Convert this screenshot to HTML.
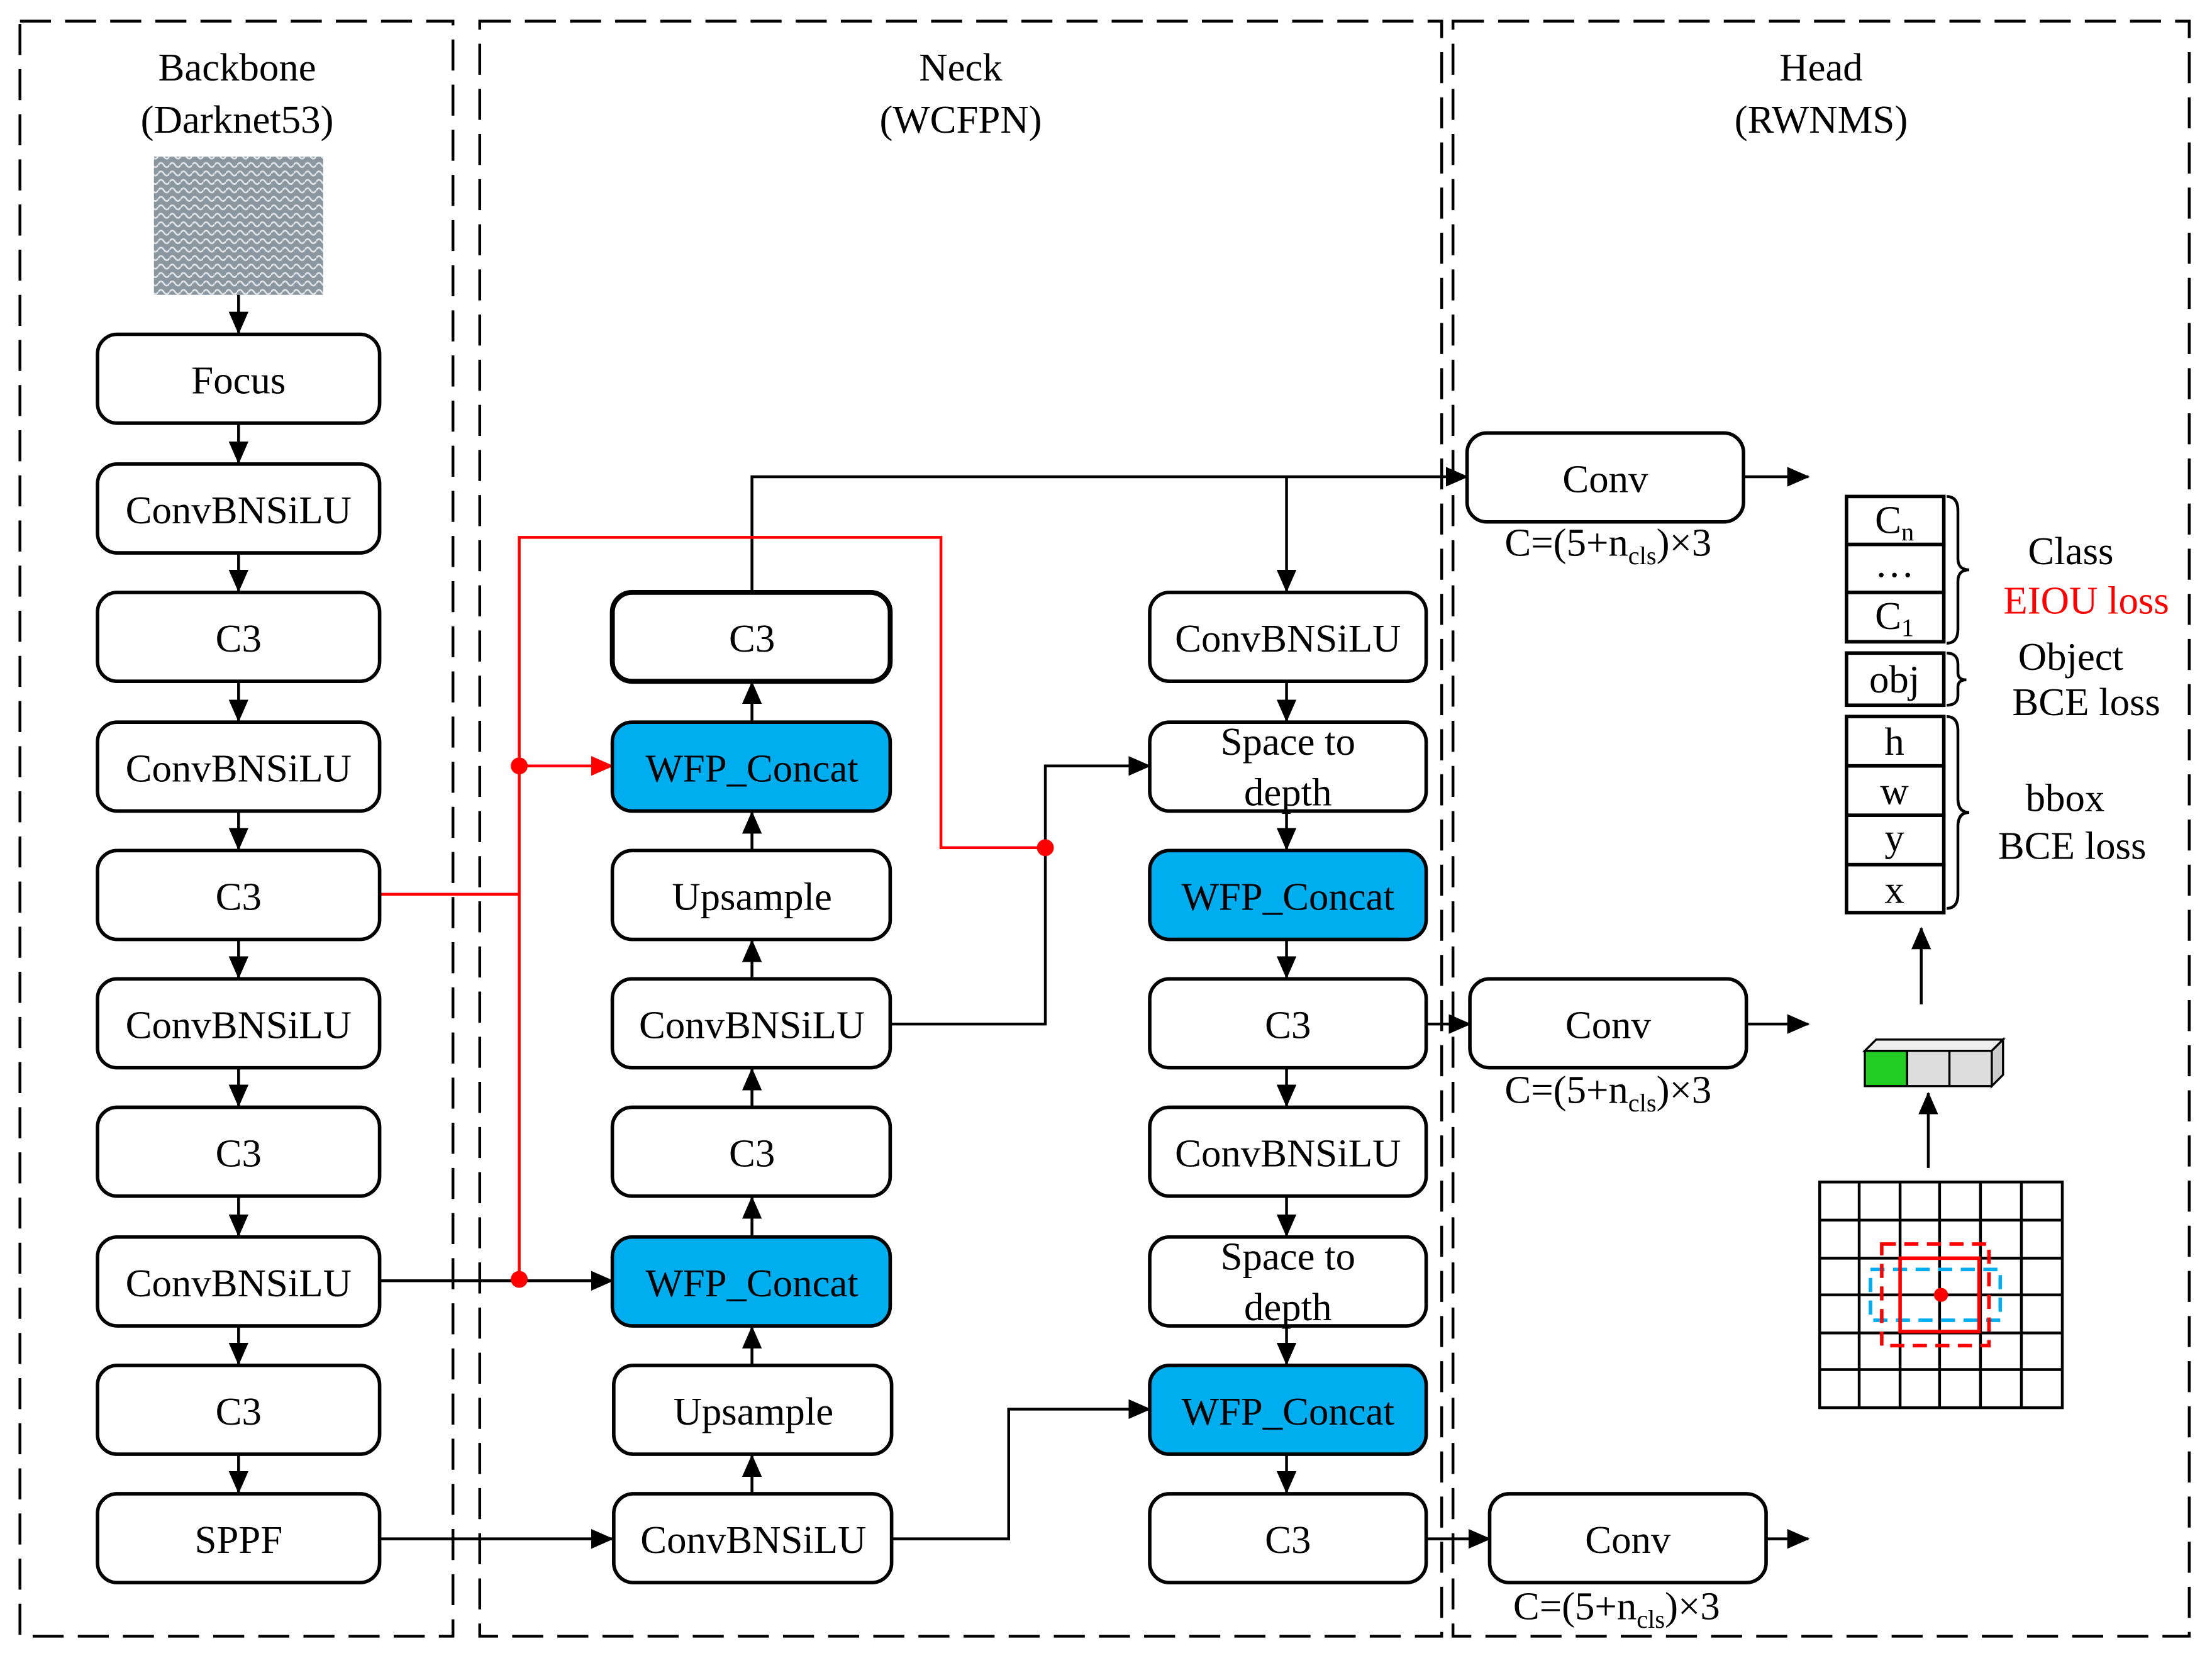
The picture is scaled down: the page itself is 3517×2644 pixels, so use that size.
<!DOCTYPE html>
<html><head><meta charset="utf-8"><style>
html,body{margin:0;padding:0;background:#fff}
svg{display:block}
text{font-family:"Liberation Serif",serif;font-size:28px;fill:#000}
</style></head><body>
<svg width="3517" height="2644" viewBox="0 0 1568 1179" xmlns="http://www.w3.org/2000/svg">
<defs>
<marker id="a" markerWidth="16" markerHeight="14" refX="15" refY="7" orient="auto" markerUnits="userSpaceOnUse" viewBox="0 0 16 14"><path d="M0,0 L16,7 L0,14z" fill="#000"/></marker>
<marker id="ar" markerWidth="16" markerHeight="14" refX="15" refY="7" orient="auto" markerUnits="userSpaceOnUse" viewBox="0 0 16 14"><path d="M0,0 L16,7 L0,14z" fill="#f00"/></marker>
<pattern id="tex" width="8" height="6" patternUnits="userSpaceOnUse"><rect width="8" height="6" fill="#8a96a0"/><path d="M0,3 Q2,0 4,3 T8,3" stroke="#dfe4e8" stroke-width="1.2" fill="none"/></pattern>
</defs>
<g fill="none" stroke="#000" stroke-width="2" stroke-dasharray="22,10">
<rect x="14" y="15" width="307" height="1145"/>
<rect x="340" y="15" width="682" height="1145"/>
<rect x="1030" y="15" width="522" height="1145"/>
</g>
<g text-anchor="middle">
<text x="168" y="57">Backbone</text><text x="168" y="94">(Darknet53)</text>
<text x="681" y="57">Neck</text><text x="681" y="94">(WCFPN)</text>
<text x="1291" y="57">Head</text><text x="1291" y="94">(RWNMS)</text>
</g>
<rect x="109" y="111" width="120" height="98" fill="url(#tex)"/>
<g stroke="#000" stroke-width="2" fill="none" marker-end="url(#a)">
<line x1="169" y1="209" x2="169" y2="236"/>
<line x1="169" y1="301" x2="169" y2="328"/>
<line x1="169" y1="393" x2="169" y2="419"/>
<line x1="169" y1="484" x2="169" y2="511"/>
<line x1="169" y1="576" x2="169" y2="602"/>
<line x1="169" y1="667" x2="169" y2="693"/>
<line x1="169" y1="758" x2="169" y2="784"/>
<line x1="169" y1="849" x2="169" y2="876"/>
<line x1="169" y1="940" x2="169" y2="967"/>
<line x1="169" y1="1032" x2="169" y2="1058"/>
<line x1="533" y1="1058" x2="533" y2="1032"/>
<line x1="533" y1="967" x2="533" y2="941"/>
<line x1="533" y1="876" x2="533" y2="849"/>
<line x1="533" y1="784" x2="533" y2="758"/>
<line x1="533" y1="693" x2="533" y2="667"/>
<line x1="533" y1="602" x2="533" y2="576"/>
<line x1="533" y1="511" x2="533" y2="484"/>
<line x1="912" y1="484" x2="912" y2="511"/>
<line x1="912" y1="576" x2="912" y2="602"/>
<line x1="912" y1="667" x2="912" y2="693"/>
<line x1="912" y1="758" x2="912" y2="784"/>
<line x1="912" y1="849" x2="912" y2="876"/>
<line x1="912" y1="940" x2="912" y2="967"/>
<line x1="912" y1="1032" x2="912" y2="1058"/>
<polyline points="533,420 533,338 1040,338"/>
<polyline points="912,338 912,419"/>
<line x1="269" y1="908" x2="434" y2="908"/>
<polyline points="631,726 741,726 741,543 815,543"/>
<line x1="269" y1="1091" x2="434" y2="1091"/>
<polyline points="631,1091 715,1091 715,999 815,999"/>
<line x1="1011" y1="726" x2="1042" y2="726"/>
<line x1="1011" y1="1091" x2="1056" y2="1091"/>
<line x1="1236" y1="338" x2="1282" y2="338"/>
<line x1="1238" y1="726" x2="1282" y2="726"/>
<line x1="1252" y1="1091" x2="1282" y2="1091"/>
<line x1="1362" y1="712" x2="1362" y2="658"/>
<line x1="1367" y1="828" x2="1367" y2="775"/>
</g>
<g stroke="#f00" stroke-width="2" fill="none">
<polyline points="269,634 368,634"/>
<polyline points="368,908 368,381 667,381 667,601 741,601"/>
<line x1="368" y1="543" x2="434" y2="543" marker-end="url(#ar)"/>
</g>
<g fill="#f00"><circle cx="368" cy="543" r="6"/><circle cx="368" cy="907" r="6"/><circle cx="741" cy="601" r="6"/></g>
<g stroke="#000" stroke-width="2.5">
<g fill="#fff">
<rect x="69" y="237" width="200" height="63" rx="14"/>
<rect x="69" y="329" width="200" height="63" rx="14"/>
<rect x="69" y="420" width="200" height="63" rx="14"/>
<rect x="69" y="512" width="200" height="63" rx="14"/>
<rect x="69" y="603" width="200" height="63" rx="14"/>
<rect x="69" y="694" width="200" height="63" rx="14"/>
<rect x="69" y="785" width="200" height="63" rx="14"/>
<rect x="69" y="877" width="200" height="63" rx="14"/>
<rect x="69" y="968" width="200" height="63" rx="14"/>
<rect x="69" y="1059" width="200" height="63" rx="14"/>
<rect x="434" y="420" width="197" height="63" rx="14" stroke-width="3.5"/>
<rect x="434" y="603" width="197" height="63" rx="14"/>
<rect x="434" y="694" width="197" height="63" rx="14"/>
<rect x="434" y="785" width="197" height="63" rx="14"/>
<rect x="435" y="968" width="197" height="63" rx="14"/>
<rect x="435" y="1059" width="197" height="63" rx="14"/>
<rect x="815" y="420" width="196" height="63" rx="14"/>
<rect x="815" y="512" width="196" height="63" rx="14"/>
<rect x="815" y="694" width="196" height="63" rx="14"/>
<rect x="815" y="785" width="196" height="63" rx="14"/>
<rect x="815" y="877" width="196" height="63" rx="14"/>
<rect x="815" y="1059" width="196" height="63" rx="14"/>
<rect x="1040" y="307" width="196" height="63" rx="14"/>
<rect x="1042" y="694" width="196" height="63" rx="14"/>
<rect x="1056" y="1059" width="196" height="63" rx="14"/>
</g>
<g fill="#00aeef">
<rect x="434" y="512" width="197" height="63" rx="14"/>
<rect x="434" y="877" width="197" height="63" rx="14"/>
<rect x="815" y="603" width="196" height="63" rx="14"/>
<rect x="815" y="968" width="196" height="63" rx="14"/>
</g>
</g>
<g text-anchor="middle">
<text x="169" y="279">Focus</text>
<text x="169" y="371">ConvBNSiLU</text>
<text x="169" y="462">C3</text>
<text x="169" y="554">ConvBNSiLU</text>
<text x="169" y="645">C3</text>
<text x="169" y="736">ConvBNSiLU</text>
<text x="169" y="827">C3</text>
<text x="169" y="919">ConvBNSiLU</text>
<text x="169" y="1010">C3</text>
<text x="169" y="1101">SPPF</text>
<text x="533" y="462">C3</text>
<text x="533" y="554">WFP_Concat</text>
<text x="533" y="645">Upsample</text>
<text x="533" y="736">ConvBNSiLU</text>
<text x="533" y="827">C3</text>
<text x="533" y="919">WFP_Concat</text>
<text x="534" y="1010">Upsample</text>
<text x="534" y="1101">ConvBNSiLU</text>
<text x="913" y="462">ConvBNSiLU</text>
<text x="913" y="535">Space to</text><text x="913" y="571">depth</text>
<text x="913" y="645">WFP_Concat</text>
<text x="913" y="736">C3</text>
<text x="913" y="827">ConvBNSiLU</text>
<text x="913" y="900">Space to</text><text x="913" y="936">depth</text>
<text x="913" y="1010">WFP_Concat</text>
<text x="913" y="1101">C3</text>
<text x="1138" y="349">Conv</text>
<text x="1140" y="736">Conv</text>
<text x="1154" y="1101">Conv</text>
<text x="1140" y="394">C=(5+n<tspan font-size="18" dy="6">cls</tspan><tspan dy="-6">)×3</tspan></text>
<text x="1140" y="782">C=(5+n<tspan font-size="18" dy="6">cls</tspan><tspan dy="-6">)×3</tspan></text>
<text x="1146" y="1148">C=(5+n<tspan font-size="18" dy="6">cls</tspan><tspan dy="-6">)×3</tspan></text>
</g>
<g stroke="#000" stroke-width="2.5" fill="#fff">
<rect x="1309" y="352" width="69" height="34"/><rect x="1309" y="386" width="69" height="34"/><rect x="1309" y="420" width="69" height="35"/>
<rect x="1309" y="463" width="69" height="37"/>
<rect x="1309" y="508" width="69" height="35"/><rect x="1309" y="543" width="69" height="35"/><rect x="1309" y="578" width="69" height="35"/><rect x="1309" y="613" width="69" height="34"/>
</g>
<g text-anchor="middle">
<text x="1343" y="378">C<tspan font-size="18" dy="5">n</tspan></text>
<text x="1343" y="409">…</text>
<text x="1343" y="446">C<tspan font-size="18" dy="5">1</tspan></text>
<text x="1343" y="491">obj</text>
<text x="1343" y="535">h</text><text x="1343" y="570">w</text><text x="1343" y="603">y</text><text x="1343" y="640">x</text>
<text x="1468" y="400">Class</text>
<text x="1479" y="435" style="fill:#f00">EIOU loss</text>
<text x="1468" y="475">Object</text>
<text x="1479" y="507">BCE loss</text>
<text x="1464" y="575">bbox</text>
<text x="1469" y="609">BCE loss</text>
</g>
<g stroke="#000" stroke-width="2" fill="none">
<path d="M1380,352 q8,0 8,10 v34 q0,8 8,8 q-8,0 -8,8 v34 q0,10 -8,10"/>
<path d="M1380,463 q8,0 8,8 v6 q0,5 6,5 q-6,0 -6,5 v6 q0,7 -8,7"/>
<path d="M1380,508 q8,0 8,10 v48 q0,10 8,10 q-8,0 -8,10 v48 q0,10 -8,10"/>
</g>
<g stroke="#000" stroke-width="1.5">
<polygon points="1330,737 1420,737 1412,745 1322,745" fill="#eee"/>
<polygon points="1420,737 1420,762 1412,770 1412,745" fill="#ccc"/>
<rect x="1322" y="745" width="30" height="25" fill="#22cc22"/>
<rect x="1352" y="745" width="30" height="25" fill="#ddd"/>
<rect x="1382" y="745" width="30" height="25" fill="#ddd"/>
</g>
<g stroke="#000" stroke-width="2" fill="none">
<rect x="1290" y="838" width="172" height="160"/>
<path d="M1318,838V998M1347,838V998M1375,838V998M1404,838V998M1433,838V998M1290,865H1462M1290,892H1462M1290,918H1462M1290,945H1462M1290,971H1462"/>
</g>
<g fill="none" stroke-width="2.5">
<rect x="1326" y="900" width="92" height="36" stroke="#00aeef" stroke-dasharray="10,6"/>
<rect x="1334" y="882" width="76" height="72" stroke="#f00" stroke-dasharray="10,6"/>
<rect x="1347" y="892" width="56" height="52" stroke="#f00"/>
</g>
<circle cx="1376" cy="918" r="5" fill="#f00"/>
</svg>
</body></html>
